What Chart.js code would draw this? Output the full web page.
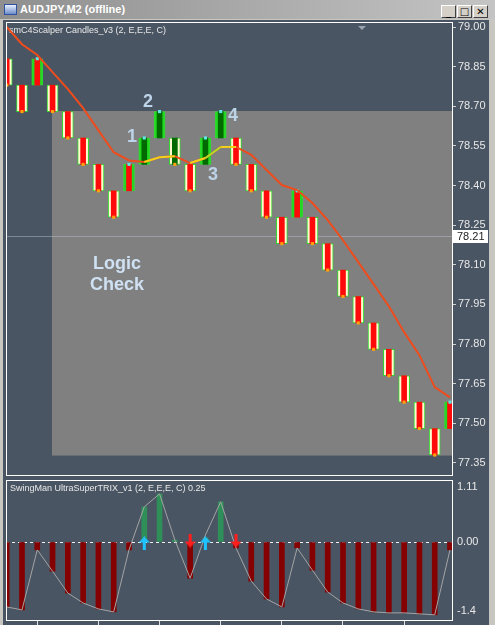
<!DOCTYPE html>
<html><head><meta charset="utf-8">
<script src="https://cdn.jsdelivr.net/npm/chart.js@4.4.1/dist/chart.umd.min.js"></script>
<style>
html,body{margin:0;padding:0;}
body{width:495px;height:625px;position:relative;overflow:hidden;background:#c8c6c0;font-family:"Liberation Sans",Arial,sans-serif;}
#title{position:absolute;left:0;top:0;width:495px;height:19px;background:linear-gradient(90deg,#8f8f8f,#c4c4c4);}
#title span{position:absolute;left:20px;top:3px;color:#fff;font-weight:bold;font-size:11px;letter-spacing:0px;}
#icon{position:absolute;left:4px;top:4px;width:13px;height:11px;background:linear-gradient(180deg,#e8f0ff,#6c8cc8);border:1px solid #3050a0;box-sizing:border-box;}
.btn{position:absolute;top:5px;width:15px;height:13px;background:#d4d0c8;border:1px solid;border-color:#fff #404040 #404040 #fff;box-sizing:border-box;font:bold 10px "DejaVu Sans";text-align:center;line-height:11px;color:#000;}
#frame{position:absolute;left:3px;top:20px;width:486px;height:605px;background:#4a5563;}
#shift{position:absolute;left:358px;top:26px;width:0;height:0;border-left:4px solid transparent;border-right:4px solid transparent;border-top:4px solid #9aa3ae;}
#c1{position:absolute;left:0;top:20px;}
#c2{position:absolute;left:0;top:478px;}
</style></head>
<body>
<div id="frame"></div>
<canvas id="c1" width="490" height="458"></canvas>
<canvas id="c2" width="490" height="147"></canvas>
<div id="shift"></div>
<div id="title"><div id="icon"></div><span>AUDJPY,M2 (offline)</span>
<div class="btn" style="left:441px">_</div><div class="btn" style="left:457px">□</div><div class="btn" style="left:473px">✕</div></div>
<script>
// ---------- DATA ----------
const candleNo   = [1,2,3,4,5,6,7,8,9,10,11,12,13,14,15,16,17,18,19,20,21,22,23,24,25,26,27,28,29,30];
const brickHigh  = [78.88,78.78,78.88,78.78,78.68,78.58,78.48,78.38,78.48,78.58,78.68,78.58,78.48,78.58,78.68,78.58,78.48,78.38,78.28,78.38,78.28,78.18,78.08,77.98,77.88,77.78,77.68,77.58,77.48,77.58];
const brickLow   = [78.78,78.68,78.78,78.68,78.58,78.48,78.38,78.28,78.38,78.48,78.58,78.48,78.38,78.48,78.58,78.48,78.38,78.28,78.18,78.28,78.18,78.08,77.98,77.88,77.78,77.68,77.58,77.48,77.38,77.48];
const brickDir   = [-1,-1,1,-1,-1,-1,-1,-1,1,1,1,-1,-1,1,1,-1,-1,-1,-1,1,-1,-1,-1,-1,-1,-1,-1,-1,-1,1];
const brickSig   = ['S','S','S','S','S','S','S','S','S','B','B','B','S','B','B','S','S','S','S','S','S','S','S','S','S','S','S','S','S','S'];
const maLine     = [79.00,78.935,78.894,78.829,78.765,78.693,78.609,78.526,78.495,78.489,78.507,78.511,78.485,78.504,78.546,78.546,78.516,78.459,78.402,78.383,78.334,78.269,78.193,78.110,78.027,77.943,77.845,77.758,77.637,77.598];
const sigLine    = [null,null,null,null,null,null,null,null,null,78.489,78.507,78.511,78.485,78.504,78.546,78.546,null,null,null,null,null,null,null,null,null,null,null,null,null,null];
const priceTicks = [77.35,77.50,77.65,77.80,77.95,78.10,78.25,78.40,78.55,78.70,78.85,79.00];
const lastPrice  = 78.21;
const markText   = ['1','2','3','4'];
const markX      = [9.19,10.24,14.5,15.8];
const markY      = [78.584,78.716,78.44,78.663];
const logicLines = ['Logic','Check'];
const logicX     = 8.22;
const logicY     = [78.103,78.023];
const logicBox   = {xFrom:3.96, top:78.682, bottom:77.378};

const histVals   = [-1.31,-1.37,-0.16,-0.59,-1.03,-1.23,-1.35,-1.41,-0.16,0.71,0.97,0.04,-0.73,0.08,0.81,-0.12,-0.79,-1.15,-1.31,-0.12,-0.57,-1.01,-1.23,-1.35,-1.41,-1.43,-1.43,-1.45,-1.47,-0.16];
const trixX      = [0,1,2,3,4,5,6,7,8,9,10,11,12,13,14,15,16,17,18,19,20,21,22,23,24,25,26,27,28,29,30];
const trixLine   = [-1.62,-1.31,-1.37,-0.16,-0.59,-1.03,-1.23,-1.35,-1.41,-0.16,0.71,0.97,0.04,-0.73,0.14,0.81,-0.12,-0.79,-1.15,-1.31,-0.12,-0.57,-1.01,-1.23,-1.35,-1.41,-1.43,-1.43,-1.45,-1.47,-0.16];
const upArrowAt  = [10,14];
const dnArrowAt  = [13,16];
const indTicks   = [-1.4,0,1.11];
const indLabels  = ['-1.4','0.00','1.11'];
const timeTicks  = [1,5,9,13,17,21,25,29];

// ---------- STYLE ----------
const X_MIN = 0.954, X_MAX = 30.131;
const COL = {upFill:'#22d822', downFill:'#fffad0', edge:'#33d633', red:'#ff0a0a', dkGreen:'#006a00',
  cyan:'#5fe6e6', orange:'#ffa010', ma:'#ee4c1c', sig:'#f2d21a', sigAlt:'#b2e024',
  negBar:'#850000', posBar:'#2f8f58', trix:'#a4a4a4', text:'#e8e8e8', box:'#808080'};
const FONT = '"Liberation Sans", Arial, sans-serif';

Chart.defaults.font.family = FONT;
Chart.defaults.animation = false;

function makeArrow(color, up){
  const c = document.createElement('canvas'); c.width = 11; c.height = 14;
  const g = c.getContext('2d'); g.fillStyle = color; g.beginPath();
  if (up){ g.moveTo(5.5,0); g.lineTo(11,6); g.lineTo(7,6); g.lineTo(7,14); g.lineTo(4,14); g.lineTo(4,6); g.lineTo(0,6); }
  else   { g.moveTo(5.5,14); g.lineTo(11,8); g.lineTo(7,8); g.lineTo(7,0); g.lineTo(4,0); g.lineTo(4,8); g.lineTo(0,8); }
  g.closePath(); g.fill(); return c;
}
const upImg = makeArrow('#1ec4ff', true), dnImg = makeArrow('#ff1e1e', false);

const bricks = candleNo.map((n,i)=>({x:n, y:[brickLow[i], brickHigh[i]]}));
const closes = candleNo.map((n,i)=>({x:n, y: brickDir[i] > 0 ? brickHigh[i] : brickLow[i]}));

function fixY(w){ return s => { s.width = w; s.paddingTop = 0; s.paddingBottom = 0; }; }

const mainPlugin = {
  id:'mainDeco',
  beforeDatasetsDraw(chart){
    const {ctx, chartArea:a, scales:{x,y}} = chart;
    ctx.save();
    ctx.fillStyle = COL.box;
    const bx = x.getPixelForValue(logicBox.xFrom), bt = y.getPixelForValue(logicBox.top), bb = y.getPixelForValue(logicBox.bottom);
    ctx.fillRect(bx, bt, a.right - bx, bb - bt);
    const py = Math.round(y.getPixelForValue(lastPrice)) + 0.5;
    ctx.strokeStyle = 'rgba(190,200,212,0.45)'; ctx.lineWidth = 1;
    ctx.beginPath(); ctx.moveTo(a.left, py); ctx.lineTo(a.right, py); ctx.stroke();
    ctx.fillStyle = COL.text; ctx.font = '9px ' + FONT; ctx.textBaseline = 'middle'; ctx.textAlign = 'left';
    ctx.fillText('smC4Scalper Candles_v3 (2, E,E,E, C)', a.left + 3, a.top + 9);
    ctx.restore();
  },
  afterDatasetsDraw(chart){
    const {ctx, scales:{x,y}} = chart;
    ctx.save();
    ctx.textAlign = 'center'; ctx.textBaseline = 'middle';
    ctx.font = 'bold 18px ' + FONT; ctx.fillStyle = '#bdd3e8';
    markText.forEach((t,i)=> ctx.fillText(t, x.getPixelForValue(markX[i]), y.getPixelForValue(markY[i])));
    ctx.fillStyle = '#cfe1f3';
    logicLines.forEach((t,i)=> ctx.fillText(t, x.getPixelForValue(logicX), y.getPixelForValue(logicY[i])));
    ctx.restore();
  },
  afterDraw(chart){
    const {ctx, chartArea:a, scales:{y}} = chart;
    ctx.save();
    ctx.strokeStyle = '#ffffff'; ctx.lineWidth = 1;
    ctx.strokeRect(Math.round(a.left)+0.5, Math.round(a.top)+0.5, Math.round(a.right-a.left), Math.round(a.bottom-a.top)-1);
    const py = Math.round(y.getPixelForValue(lastPrice));
    ctx.fillStyle = '#ffffff'; ctx.fillRect(a.right+1, py-6, 35, 13);
    ctx.fillStyle = '#222'; ctx.font = '11px ' + FONT; ctx.textBaseline = 'middle'; ctx.textAlign = 'left';
    ctx.fillText(lastPrice.toFixed(2), a.right + 5, py + 0.5);
    ctx.restore();
  }
};

new Chart(document.getElementById('c1'), {
  type:'bar',
  data:{ datasets:[
    {type:'line', data: sigLine.map((v,i)=>({x:candleNo[i], y:v})), borderColor:COL.sig, borderWidth:2, pointRadius:0, spanGaps:false, order:0,
      segment:{ borderColor: c => c.p0DataIndex === 11 ? 'rgba(0,0,0,0)' : (c.p0DataIndex === 13 ? COL.sigAlt : COL.sig) } },
    {type:'line', data: maLine.map((v,i)=>({x:candleNo[i], y:v})), borderColor:COL.ma, borderWidth:2, pointRadius:0, order:1},
    {type:'scatter', data: closes, showLine:false, pointStyle:'rect', pointRadius:2.2, borderWidth:0,
      backgroundColor: brickDir.map(d => d > 0 ? COL.cyan : COL.orange), order:2},
    {type:'bar', data: bricks, grouped:false, barThickness:5, borderWidth:0,
      backgroundColor: brickSig.map(s => s === 'B' ? COL.dkGreen : COL.red), order:3},
    {type:'bar', data: bricks, grouped:false, barThickness:11, borderWidth:1, borderSkipped:false, borderColor:COL.edge,
      backgroundColor: brickDir.map(d => d > 0 ? COL.upFill : COL.downFill), order:4}
  ]},
  options:{
    responsive:false, devicePixelRatio:1, events:[],
    layout:{autoPadding:false, padding:{left:6, right:0, top:2, bottom:2}},
    plugins:{legend:{display:false}, tooltip:{enabled:false}},
    scales:{
      x:{type:'linear', min:X_MIN, max:X_MAX, display:false, offset:false},
      y:{type:'linear', position:'right', min:77.3005, max:79.019,
        afterBuildTicks: s => { s.ticks = priceTicks.map(v=>({value:v})); },
        afterFit: fixY(38),
        grid:{drawOnChartArea:false, drawTicks:true, tickLength:4, color:'#d0d0d0'},
        border:{display:false},
        ticks:{color:COL.text, padding:2, font:{size:11, family:FONT}, callback: v => Number(v).toFixed(2)}
      }
    }
  },
  plugins:[mainPlugin]
});

const indPlugin = {
  id:'indDeco',
  beforeDatasetsDraw(chart){
    const {ctx, chartArea:a, scales:{y}} = chart;
    ctx.save();
    const zy = Math.round(y.getPixelForValue(0)) + 0.5;
    ctx.strokeStyle = '#f0f0f0'; ctx.lineWidth = 1; ctx.setLineDash([3,3]);
    ctx.beginPath(); ctx.moveTo(a.left, zy); ctx.lineTo(a.right, zy); ctx.stroke();
    ctx.setLineDash([]);
    ctx.fillStyle = COL.text; ctx.font = '9px ' + FONT; ctx.textBaseline = 'middle'; ctx.textAlign = 'left';
    ctx.fillText('SwingMan UltraSuperTRIX_v1 (2, E,E,E, C) 0.25', a.left + 4, a.top + 9);
    ctx.restore();
  },
  afterDraw(chart){
    const {ctx, chartArea:a} = chart;
    ctx.save(); ctx.strokeStyle = '#ffffff'; ctx.lineWidth = 1;
    ctx.strokeRect(Math.round(a.left)+0.5, Math.round(a.top)+0.5, Math.round(a.right-a.left), Math.round(a.bottom-a.top)-1);
    ctx.restore();
  }
};

new Chart(document.getElementById('c2'), {
  type:'bar',
  data:{ datasets:[
    {type:'scatter', data: upArrowAt.map(n=>({x:n, y:-0.03})), pointStyle:upImg, pointRadius:5, order:0},
    {type:'scatter', data: dnArrowAt.map(n=>({x:n, y:0.03})), pointStyle:dnImg, pointRadius:5, order:0},
    {type:'line', data: trixLine.map((v,i)=>({x:trixX[i], y:v})), borderColor:COL.trix, borderWidth:1, pointRadius:0, order:1},
    {type:'bar', data: histVals.map((v,i)=>({x:candleNo[i], y:v})), grouped:false, barThickness:5, borderWidth:0,
      backgroundColor: histVals.map(v => v >= 0 ? COL.posBar : COL.negBar), order:2}
  ]},
  options:{
    responsive:false, devicePixelRatio:1, events:[],
    layout:{autoPadding:false, padding:{left:6, right:0, top:2, bottom:0}},
    plugins:{legend:{display:false}, tooltip:{enabled:false}},
    scales:{
      x:{type:'linear', min:X_MIN, max:X_MAX, offset:false,
        afterBuildTicks: s => { s.ticks = timeTicks.map(v=>({value:v})); },
        afterFit: s => { s.height = 4; s.paddingLeft = 0; s.paddingRight = 0; },
        ticks:{display:false},
        grid:{drawOnChartArea:false, drawTicks:true, tickLength:4, color:'#e0e0e0'},
        border:{display:false}
      },
      y:{type:'linear', position:'right', min:-1.594, max:1.251,
        afterBuildTicks: s => { s.ticks = indTicks.map(v=>({value:v})); },
        afterFit: fixY(38),
        grid:{drawOnChartArea:false, drawTicks:true, tickLength:3, color:'rgba(0,0,0,0)'},
        border:{display:false},
        ticks:{color:COL.text, padding:2, font:{size:11, family:FONT},
          callback: (v,i) => indLabels[i]}
      }
    }
  },
  plugins:[indPlugin]
});
</script>
</body></html>
